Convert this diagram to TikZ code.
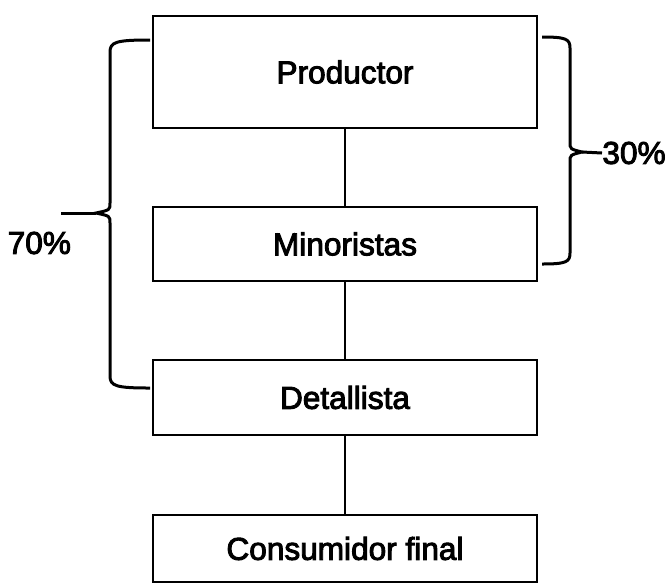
\documentclass[tikz,border=0pt]{standalone}
\usepackage{fontspec}
\setmainfont{Liberation Sans}[BoldFont=Liberation Sans, BoldFeatures={FakeBold=3}]
\begin{document}
\begin{tikzpicture}[x=0.5pt, y=-0.5pt,
	caja/.style={draw, line width=1pt, minimum width=192pt, inner sep=0pt, font=\fontsize{15.8}{18}\selectfont\bfseries},
	llave/.style={line width=1.5pt},
	pct/.style={font=\fontsize{15.8}{18}\selectfont\bfseries}]
		\useasboundingbox (0,0) rectangle (668,585);
		% cajas
		\node[caja, minimum height=56pt] (prod) at (345,72) {Productor};
		\node[caja, minimum height=37pt] (mino) at (345,244) {Minoristas};
		\node[caja, minimum height=37.5pt] (deta) at (345,397.5) {Detallista};
		\node[caja, minimum height=33.5pt] (cons) at (345,548.5) {Consumidor final};
		\draw[line width=1pt] (prod) -- (mino);
		\draw[line width=1pt] (mino) -- (deta);
		\draw[line width=1pt] (deta) -- (cons);
		% llave izquierda
		\coordinate (pizq) at (96,213);
		\draw[llave] (150,40) .. controls (116,40) and (110,42) .. (110,52) -- (110,203) .. controls (110,210) .. (pizq) .. controls (110,216) .. (110,223) -- (110,376) .. controls (110,386) and (116,388) .. (150,388);
		\node[pct, anchor=east] (p70) at (78,243) {70\%};
		\draw[llave] (pizq) -- (61,213);
		% llave derecha
		\coordinate (pder) at (582,152);
		\draw[llave] (542,37) .. controls (566,37) and (570,39) .. (570,48) -- (570,142) .. controls (570,149) .. (pder) .. controls (570,155) .. (570,162) -- (570,253) .. controls (570,262) and (566,264) .. (542,264);
		\node[pct, anchor=west, inner sep=0pt] (p30) at (602,153) {30\%};
		\draw[llave] (pder) -- (p30.west);
	\end{tikzpicture}
\end{document}
